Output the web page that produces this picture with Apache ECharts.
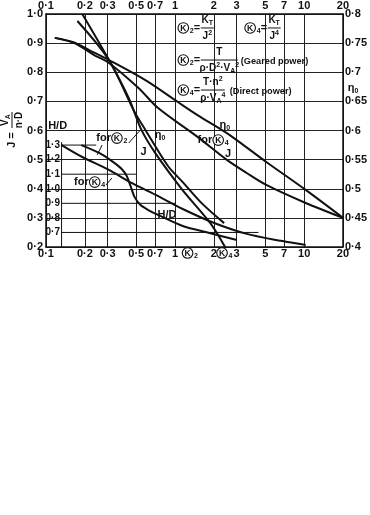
<!DOCTYPE html>
<html><head><meta charset="utf-8">
<script src="https://cdn.jsdelivr.net/npm/echarts@6/dist/echarts.min.js"></script>
<style>html,body{margin:0;padding:0;background:#fff}#c{width:370px;height:515px}</style>
</head><body><div id="c"></div>
<script>
// ---- data ----
const xTicks = [0.1, 0.2, 0.3, 0.5, 0.7, 1, 2, 3, 5, 7, 10, 20];
const hdTicks = [0.7, 0.8, 0.9, 1.0, 1.1, 1.2, 1.3];
// J for K2 (left axis J)
const jK2 = [[0.191,1.0],[0.3075,0.842],[0.437,0.712],[0.549,0.602],[0.701,0.523],[1.127,0.399],[1.875,0.282],[2.44,0.2]];
// eta0 for K2 (right axis)
const etaK2 = [[0.175,0.788],[0.3075,0.721],[0.477,0.635],[0.589,0.601],[0.881,0.539],[1.146,0.5115],[1.629,0.474],[2.40,0.441]];
// J for K4
const jK4 = [[0.117,0.918],[0.166,0.900],[0.236,0.859],[0.3075,0.832],[0.521,0.746],[0.739,0.677],[1.492,0.578],[2.52,0.499],[3.59,0.454],[5.09,0.413],[10.28,0.351],[20,0.30]];
// eta0 for K4
const etaK4 = [[0.117,0.759],[0.161,0.752],[0.216,0.738],[0.3075,0.721],[0.589,0.6865],[1.05,0.649],[1.492,0.6265],[2.52,0.5955],[5.09,0.546],[10.28,0.498],[20,0.45]];
// H/D for K2 and K4 (inner H/D scale)
const hdK2 = [[0.188,1.3],[0.258,1.246],[0.324,1.19],[0.386,1.136],[0.422,1.088],[0.452,1.019],[0.485,0.944],[0.540,0.888],[0.620,0.854],[0.739,0.820],[1.146,0.744],[1.842,0.696],[3.01,0.648]];
const hdK4 = [[0.132,1.3],[0.191,1.218],[0.3075,1.129],[0.460,1.040],[0.739,0.950],[1.146,0.861],[2.01,0.765],[3.59,0.690],[6.08,0.648],[10.28,0.614]];
// H/D scale: vertical line position (K), its top, and odd H/D guide lines [H/D, end K]
const hdScaleK = 0.132;
const hdScaleTop = 1.32;
const hdGuides = [[1.3,0.245],[1.1,0.5],[0.9,1.0],[0.7,4.43]];
// leader lines [K,J] pairs
const leaders = [[[0.249,0.516],[0.272,0.550]],[[0.437,0.557],[0.530,0.598]],[[0.292,0.413],[0.324,0.437]]];

// ---- rendering ----
const INK = '#111';
const FONT = '"Liberation Sans", Arial, sans-serif';
const chart = echarts.init(document.getElementById('c'), null, {renderer:'canvas'});
const lbl = {color: INK, fontSize: 11, fontWeight: 'bold', fontFamily: FONT};
const fmtX = v => String(parseFloat((+v).toFixed(2))).replace('.', '\u00b7');
const fmtL = v => (+v).toFixed(1).replace('.', '\u00b7');
const fmtR = v => String(parseFloat((+v).toFixed(2))).replace('.', '\u00b7');

function curve(data, yIdx, w, sm) {
  return {type:'line', xAxisIndex:0, yAxisIndex:yIdx, data, showSymbol:false, symbol:'none',
    smooth: sm === undefined ? 0.3 : sm, silent:true, emphasis:{disabled:true},
    lineStyle:{color:INK, width:w}, z:5, animation:false};
}
const series = [
  curve(jK2, 0, 2), curve(etaK2, 1, 2), curve(jK4, 0, 2), curve(etaK4, 1, 2),
  curve(hdK2, 2, 2, 0.25), curve(hdK4, 2, 2, 0.25),
  curve([[hdScaleK, hdScaleTop],[hdScaleK, 0.6]], 2, 1, false)
];
hdGuides.forEach(g => series.push(curve([[hdScaleK, g[0]],[g[1], g[0]]], 2, 1, false)));
leaders.forEach(l => series.push(curve(l, 0, 1, false)));

const option = {
  animation: false,
  backgroundColor: '#fff',
  grid: {left:46, right:22, top:14, bottom:268, show:false},
  xAxis: [
    {type:'log', logBase:10, min:0.1, max:20, position:'bottom',
     axisLine:{show:true, onZero:false, lineStyle:{color:INK, width:1.5}},
     axisTick:{show:false, customValues:xTicks},
     axisLabel:Object.assign({customValues:xTicks, formatter:fmtX, margin:1}, lbl),
     splitLine:{show:true, lineStyle:{color:'#222', width:1}},
     minorTick:{show:false}, minorSplitLine:{show:false}},
    {type:'log', logBase:10, min:0.1, max:20, position:'top',
     axisLine:{show:true, onZero:false, lineStyle:{color:INK, width:1.5}},
     axisTick:{show:false, customValues:xTicks},
     axisLabel:Object.assign({customValues:xTicks, formatter:fmtX, margin:3}, lbl),
     splitLine:{show:false}}
  ],
  yAxis: [
    {type:'value', min:0.2, max:1.0, interval:0.1, position:'left',
     axisLine:{show:true, onZero:false, lineStyle:{color:INK, width:1.5}},
     axisTick:{show:false},
     axisLabel:Object.assign({formatter:fmtL, margin:3}, lbl),
     splitLine:{show:true, lineStyle:{color:'#222', width:1}}},
    {type:'value', min:0.4, max:0.8, interval:0.05, position:'right',
     axisLine:{show:true, onZero:false, lineStyle:{color:INK, width:1.5}},
     axisTick:{show:false},
     axisLabel:Object.assign({formatter:fmtR, margin:2}, lbl),
     splitLine:{show:false}},
    {type:'value', min:0.6, max:2.2, position:'left', offset:-16,
     axisLine:{show:false}, axisTick:{show:false, customValues:hdTicks},
     axisLabel:Object.assign({customValues:hdTicks, formatter:fmtL, margin:2, padding:[0,0,5,0]}, lbl, {fontSize:10}),
     splitLine:{show:false}}
  ],
  series
};
chart.setOption(option);

// ---- annotations placed through the chart's own scales ----
const P = (x, y) => chart.convertToPixel({seriesIndex:0}, [x, y]);
const rich = {
  m:{fontSize:10, fontWeight:'bold', fontFamily:FONT, fill:INK},
  b:{fontSize:11, fontWeight:'bold', fontFamily:FONT, fill:INK},
  s:{fontSize:7, fontWeight:'bold', fontFamily:FONT, fill:INK, padding:[6,0,0,0]},
  p:{fontSize:7, fontWeight:'bold', fontFamily:FONT, fill:INK, padding:[0,0,6,0]}
};
function txt(x, y, text, opt) {
  return {type:'text', x, y, silent:true, z:100,
    style:Object.assign({text, fill:INK, fontFamily:FONT, fontWeight:'bold', fontSize:11,
      align:'center', verticalAlign:'middle', rich}, opt || {})};
}
function circK(cx, cy, sub) {
  return [
    {type:'circle', silent:true, z:100, shape:{cx, cy, r:5.3}, style:{fill:'#fff', stroke:INK, lineWidth:1.1}},
    txt(cx, cy + 0.5, 'K', {fontSize:8.5}),
    txt(cx + 6.5, cy + 3, sub, {fontSize:7, align:'left'})
  ];
}
function hline(x1, x2, y) {
  return {type:'line', silent:true, z:100, shape:{x1, y1:y, x2, y2:y}, style:{stroke:INK, lineWidth:1}};
}
function forK(a, sub) {
  return [txt(a[0] - 2, a[1], 'for', {align:'right'})].concat(circK(a[0] + 4, a[1], sub));
}
function formula(a, sub, barLen, num, den) {
  const x = a[0], y = a[1];
  return circK(x + 5.5, y, sub).concat([
    txt(x + 16, y, '=', {align:'left'}),
    hline(x + 23, x + 23 + barLen, y),
    txt(x + 23 + barLen / 2, y - 8, num),
    txt(x + 23 + barLen / 2, y + 8, den)
  ]);
}
const g = [];
const bottomY = P(1, 0.2)[1];
const rightX = P(20, 0.5)[0];
// curve labels
g.push(txt(...P(0.569, 0.525), 'J'));
g.push(txt(...P(0.765, 0.585), '{b|\u03b7}{s|0}'));
g.push(txt(...P(2.43, 0.619), '{b|\u03b7}{s|0}'));
g.push(txt(...P(2.57, 0.519), 'J'));
g.push(txt(...P(0.866, 0.310), 'H/D'));
g.push(txt(...P(0.123, 0.615), 'H/D'));
g.push(...forK(P(0.330, 0.574), '2'));
g.push(...forK(P(0.222, 0.423), '4'));
g.push(...forK(P(2.01, 0.567), '4'));
// formulas
g.push(...formula(P(1.05, 0.952), '2', 13, '{m|K}{s|T}', '{m|J}{p|2}'));
g.push(...formula(P(3.46, 0.952), '4', 13, '{m|K}{s|T}', '{m|J}{p|4}'));
const f3 = P(1.05, 0.842);
g.push(...formula(f3, '2', 37, '{m|T}', '{m|\u03c1\u00b7D}{p|2}{m|\u00b7V}{s|A}{p|2}'));
g.push(txt(f3[0] + 63, f3[1] + 1, '(Geared power)', {align:'left', fontSize:9.2}));
const f4 = P(1.05, 0.739);
g.push(...formula(f4, '4', 24, '{m|T\u00b7n}{p|2}', '{m|\u03c1\u00b7V}{s|A}{p|4}'));
g.push(txt(f4[0] + 52, f4[1] + 1, '(Direct power)', {align:'left', fontSize:9.2}));
// right axis name
g.push(txt(rightX + 10, P(1, 0.746)[1], '{b|\u03b7}{s|0}'));
// bottom circled K marks
g.push(...circK(P(1.25, 0.2)[0], bottomY + 6, '2'));
g.push(...circK(P(2.31, 0.2)[0], bottomY + 6, '4'));
// y-axis title  J = V_A / n·D  (rotated)
const yt = [12, P(0.1, 0.636)[1]];
g.push({type:'group', x:yt[0], y:yt[1], rotation:Math.PI / 2, silent:true, z:100, children:[
  txt(-20, 0, 'J =', {fontSize:11}),
  hline(-8, 8, 0),
  txt(0, -7, '{m|V}{s|A}'),
  txt(0, 7, '{m|n\u00b7D}')
]});
chart.setOption({graphic: g});
</script></body></html>
